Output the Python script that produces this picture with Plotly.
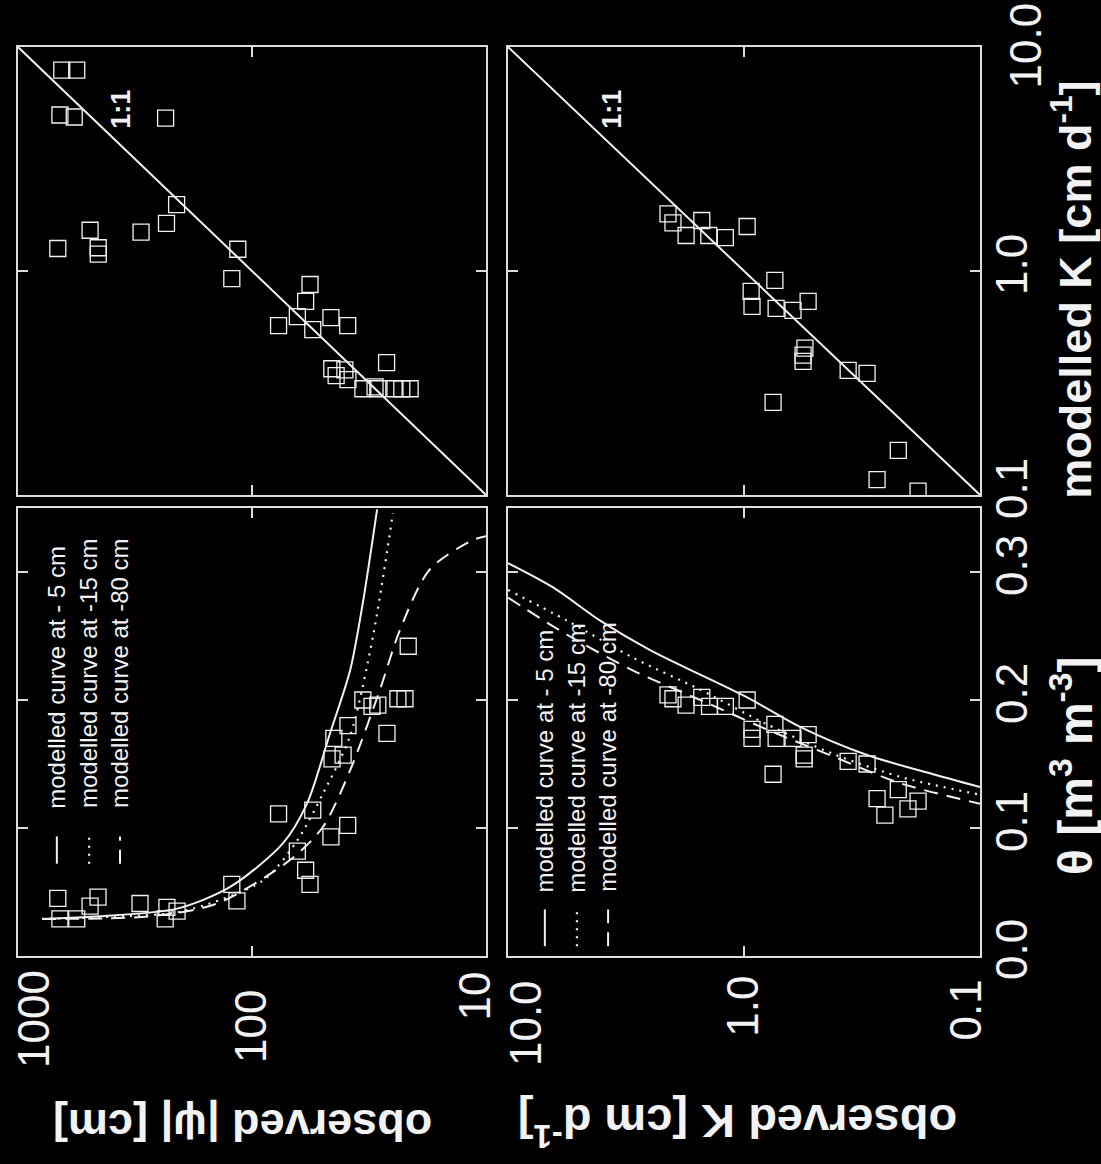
import math
import plotly.graph_objects as go

# ---------------- data ----------------
# Panel A: observed |psi| [cm] vs theta [m3 m-3]
psiA_obs = [676, 662, 561, 492, 455, 301, 231, 235, 209, 122, 116, 77, 64, 59, 56.5, 55,
            46, 39, 45.5, 44.7, 40.8, 38.9, 33.6, 30.7, 29.0, 26.5, 23.8, 22.2, 21.5]
thetaA_obs = [0.045, 0.029, 0.029, 0.039, 0.046, 0.041, 0.038, 0.029, 0.035, 0.056, 0.043,
              0.111, 0.082, 0.067, 0.056, 0.114, 0.093, 0.102, 0.154, 0.170, 0.157, 0.180,
              0.200, 0.195, 0.196, 0.174, 0.201, 0.201, 0.242]

ret5_psi = [789, 447, 209, 124, 73.8, 58.2, 46.4, 38.1, 33.6, 29.2]
ret5_theta = [0.029, 0.031, 0.037, 0.054, 0.088, 0.119, 0.174, 0.223, 0.276, 0.349]
ret15_psi = [789, 366, 197, 89.8, 64.2, 49.7, 38.1, 30.4, 25.0]
ret15_theta = [0.029, 0.031, 0.035, 0.059, 0.090, 0.127, 0.172, 0.250, 0.346]
ret80_psi = [789, 273, 141, 68.8, 49.7, 38.1, 28.4, 23.3, 17.4, 11.4, 10]
ret80_theta = [0.029, 0.031, 0.041, 0.075, 0.101, 0.145, 0.208, 0.255, 0.302, 0.325, 0.328]

# Panel B: observed |psi| vs modelled |psi|
psiB_obs = [650, 561, 662, 575, 234, 210, 232, 492, 298, 676, 454, 454, 115, 122, 56.5, 59,
            64, 77, 46, 39, 55, 26.6, 45.6, 43.7, 40.1, 38.9, 33.6, 29.8, 29.0, 24.5, 22.9, 21.1]
psiB_mod = [789, 789, 497, 487, 481, 198, 163, 152, 149, 126, 127, 119, 125, 92.5, 87, 73.1,
            62.5, 57, 61.9, 57, 54.7, 39, 36.6, 34.1, 36.2, 32.7, 29.8, 30.4, 29.8, 29.8, 29.8, 29.8]
one_psi = [10, 1000]

# Panel C: observed K [cm d-1] vs theta
KC_obs = [2.10, 2.00, 1.76, 1.51, 1.40, 1.20, 0.97, 0.74, 0.925, 0.925, 0.731, 0.62, 0.535,
          0.556, 0.556, 0.362, 0.301, 0.753, 0.222, 0.273, 0.253, 0.202, 0.183]
thetaC_obs = [0.204, 0.201, 0.196, 0.202, 0.195, 0.195, 0.200, 0.181, 0.177, 0.170, 0.170,
              0.170, 0.173, 0.157, 0.154, 0.152, 0.150, 0.142, 0.130, 0.123, 0.110, 0.115, 0.121]

cond5_K = [10, 6.44, 4.07, 2.50, 0.97, 0.579, 0.301, 0.158, 0.1]
cond5_theta = [0.307, 0.288, 0.262, 0.239, 0.202, 0.179, 0.157, 0.142, 0.132]
cond15_K = [10, 5.62, 2.95, 1.53, 0.80, 0.42, 0.218, 0.1]
cond15_theta = [0.286, 0.262, 0.233, 0.208, 0.181, 0.158, 0.140, 0.126]
cond80_K = [10, 5.62, 2.95, 1.53, 0.80, 0.42, 0.218, 0.1]
cond80_theta = [0.280, 0.251, 0.223, 0.200, 0.177, 0.156, 0.135, 0.119]

# Panel D: observed K vs modelled K
KD_obs = [2.10, 2.00, 1.76, 1.51, 1.41, 1.20, 0.97, 0.74, 0.933, 0.925, 0.731, 0.62, 0.535,
          0.552, 0.562, 0.562, 0.362, 0.301, 0.753, 0.222, 0.273, 0.183]
KD_mod = [1.80, 1.64, 1.44, 1.68, 1.44, 1.41, 1.58, 0.908, 0.81, 0.695, 0.681, 0.667, 0.731,
          0.452, 0.421, 0.395, 0.360, 0.349, 0.259, 0.158, 0.117, 0.104]
one_K = [0.1, 10]

legend_labels = ["modelled curve at - 5 cm", "modelled curve at -15 cm", "modelled curve at -80 cm"]
psi_ticks = [1000, 100, 10]
psi_ticktext = ["1000", "100", "10"]
K_ticks = [10, 1, 0.1]
K_ticktext = ["10.0", "1.0", "0.1"]
theta_ticks = [0, 0.1, 0.2, 0.3]
theta_ticktext = ["0.0", "0.1", "0.2", "0.3"]
Kmod_ticks = [0.1, 1, 10]
Kmod_ticktext = ["0.1", "1.0", "10.0"]

# ---------------- style ----------------
WHITE = "#f2f2f2"
FONT = "Liberation Sans, Arial, Helvetica, sans-serif"
dashes = ["solid", "2px,6px", "14px,9px"]
MS = 16
TICKSIZE = 44

fig = go.Figure()

def scatter(x, y, xa, ya):
    fig.add_trace(go.Scatter(x=x, y=y, xaxis=xa, yaxis=ya, mode="markers",
                             marker=dict(symbol="square-open", size=MS, color=WHITE,
                                         line=dict(width=1.3, color=WHITE)),
                             showlegend=False, hoverinfo="skip"))

def curve(x, y, xa, ya, dash, w=2):
    fig.add_trace(go.Scatter(x=x, y=y, xaxis=xa, yaxis=ya, mode="lines",
                             line=dict(color=WHITE, width=w, dash=dash, shape="spline", smoothing=0.8),
                             showlegend=False, hoverinfo="skip"))

# Panel A (bottom-left)
scatter(psiA_obs, thetaA_obs, "x", "y")
curve(ret5_psi, ret5_theta, "x", "y", dashes[0])
curve(ret15_psi, ret15_theta, "x", "y", dashes[1], 2.2)
curve(ret80_psi, ret80_theta, "x", "y", dashes[2])
# Panel B (top-left)
scatter(psiB_obs, psiB_mod, "x2", "y2")
fig.add_trace(go.Scatter(x=one_psi, y=one_psi, xaxis="x2", yaxis="y2", mode="lines",
                         line=dict(color=WHITE, width=2), showlegend=False, hoverinfo="skip"))
# Panel C (bottom-right)
scatter(KC_obs, thetaC_obs, "x3", "y3")
curve(cond5_K, cond5_theta, "x3", "y3", dashes[0])
curve(cond15_K, cond15_theta, "x3", "y3", dashes[1], 2.2)
curve(cond80_K, cond80_theta, "x3", "y3", dashes[2])
# Panel D (top-right)
scatter(KD_obs, KD_mod, "x4", "y4")
fig.add_trace(go.Scatter(x=one_K, y=one_K, xaxis="x4", yaxis="y4", mode="lines",
                         line=dict(color=WHITE, width=2), showlegend=False, hoverinfo="skip"))

LX = [0.0, 0.4865]
RX = [0.5094, 1.0]
BY = [0.0, 0.4928]
TY = [0.5072, 1.0]

tickfont = dict(family=FONT, size=TICKSIZE, color=WHITE)
base = dict(showgrid=False, zeroline=False, showline=True, linecolor="#dcdcdc", linewidth=2,
            mirror="ticks", ticks="inside", ticklen=10, tickwidth=1.5, tickcolor="#dcdcdc",
            tickfont=tickfont, tickangle=-90, fixedrange=True, automargin=False,
            ticklabeloverflow="allow")

psi_range = [3, 1]
K_range = [1, -1]

fig.update_layout(
    xaxis=dict(base, domain=LX, anchor="y", type="log", range=psi_range,
               tickvals=psi_ticks, ticktext=["", psi_ticktext[1], ""], ticklabelstandoff=14),
    yaxis=dict(base, domain=BY, anchor="x", range=[0, 0.35], tickvals=theta_ticks,
               showticklabels=False),
    xaxis2=dict(base, domain=LX, anchor="y2", type="log", range=psi_range,
                tickvals=psi_ticks, showticklabels=False),
    yaxis2=dict(base, domain=TY, anchor="x2", type="log", range=[1, 3],
                tickvals=[10, 100, 1000], showticklabels=False),
    xaxis3=dict(base, domain=RX, anchor="y3", type="log", range=K_range,
                tickvals=K_ticks, ticktext=["", K_ticktext[1], ""]),
    yaxis3=dict(base, domain=BY, anchor="x3", side="right", range=[0, 0.35],
                tickvals=theta_ticks, ticktext=theta_ticktext, ticklabelstandoff=-8),
    xaxis4=dict(base, domain=RX, anchor="y4", type="log", range=K_range,
                tickvals=K_ticks, showticklabels=False),
    yaxis4=dict(base, domain=TY, anchor="x4", side="right", type="log", range=[-1, 1],
                tickvals=Kmod_ticks, ticktext=[Kmod_ticktext[0], Kmod_ticktext[1], ""],
                ticklabelstandoff=-8),
)

ann = []
shapes = []
# edge tick labels (kept inside the figure edges as in the original)
edge_labels = [("x", "y domain", math.log10(psi_ticks[0]), psi_ticktext[0], 15, -12),
               ("x", "y domain", math.log10(psi_ticks[2]), psi_ticktext[2], -12, -14),
               ("x3", "y3 domain", math.log10(K_ticks[0]), K_ticktext[0], 17, -22),
               ("x3", "y3 domain", math.log10(K_ticks[2]), K_ticktext[2], -15, -22)]
for xr, yr, xv, txt, dx, dy in edge_labels:
    ann.append(dict(text=txt, xref=xr, yref=yr, x=xv, y=0, xanchor="center", yanchor="top",
                    xshift=dx, yshift=dy, textangle=-90, showarrow=False, font=tickfont))
ann.append(dict(text=Kmod_ticktext[2], xref="x4 domain", yref="y4", x=1,
                y=math.log10(Kmod_ticks[2]), xanchor="left", yanchor="middle", xshift=18,
                yshift=1, textangle=-90, showarrow=False, font=tickfont))

# legends (rotated)
leg_cfg = [("x domain", "y domain", [0.083, 0.152, 0.218], 0.206, 0.267, 0.325),
           ("x3 domain", "y3 domain", [0.078, 0.146, 0.212], 0.022, 0.104, 0.138)]
for xr, yr, xs, y0, y1, ytxt in leg_cfg:
    for i, lab in enumerate(legend_labels):
        shapes.append(dict(type="line", xref=xr, yref=yr, x0=xs[i], x1=xs[i], y0=y0, y1=y1,
                           line=dict(color=WHITE, width=2 if i != 1 else 2.2, dash=dashes[i])))
        ann.append(dict(text=lab, xref=xr, yref=yr, x=xs[i], y=ytxt, xanchor="center",
                        yanchor="bottom", textangle=-90, showarrow=False,
                        font=dict(family=FONT, size=24, color=WHITE)))
# 1:1 labels
for xr, yr in [("x2 domain", "y2 domain"), ("x4 domain", "y4 domain")]:
    ann.append(dict(text="<b>1:1</b>", xref=xr, yref=yr, x=0.22, y=0.862, xanchor="center",
                    yanchor="middle", textangle=-90, showarrow=False,
                    font=dict(family=FONT, size=27, color=WHITE)))
# axis titles
for txt, x, y, ang, fs in [("<b>observed |ψ| [cm]</b>", 0.234, -0.186, 180, 45),
                           ("<b>observed K [cm d<sup>-1</sup>]</b>", 0.748, -0.186, 180, 47),
                           ("<b>θ [m<sup>3</sup> m<sup>-3</sup>]</b>", 1.0956, 0.21, -90, 48),
                           ("<b>modelled K [cm d<sup>-1</sup>]</b>", 1.0956, 0.733, -90, 45)]:
    ann.append(dict(text=txt, xref="paper", yref="paper", x=x, y=y, xanchor="center",
                    yanchor="middle", textangle=ang, showarrow=False,
                    font=dict(family=FONT, size=fs, color=WHITE)))

fig.update_layout(width=1101, height=1164, paper_bgcolor="black", plot_bgcolor="black",
                  margin=dict(l=18, r=121, t=47, b=208, autoexpand=False), showlegend=False,
                  annotations=ann, shapes=shapes, font=dict(family=FONT, color=WHITE))

fig.write_html("out.html", config={"displayModeBar": False},
               post_script="document.body.style.margin='0';document.body.style.background='black';"
                           "document.body.style.overflow='hidden';")
